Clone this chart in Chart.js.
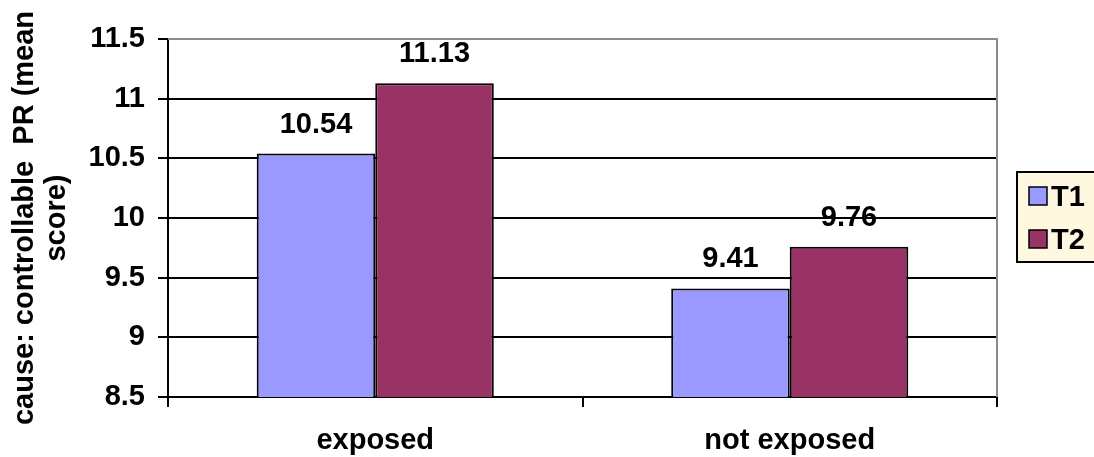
<!DOCTYPE html>
<html>
<head>
<meta charset="utf-8">
<script src="https://cdn.jsdelivr.net/npm/chart.js@4"></script>
<style>
  html, body { margin: 0; padding: 0; background: #ffffff; }
  #wrap { width: 1094px; height: 457px; }
</style>
</head>
<body>
<div id="wrap"><canvas id="chart" width="1094" height="457"></canvas></div>
<script>
// Mean scores per exposure group, measured at two time points
const categories = ['exposed', 'not exposed'];
const seriesNames = ['T1', 'T2'];
const t1Values = [10.54, 9.41];
const t2Values = [11.13, 9.76];
const yTickValues = [8.5, 9, 9.5, 10, 10.5, 11, 11.5];
const yTitle = ['cause: controllable  PR (mean', 'score)'];

const FONT = "'Liberation Sans', Arial, sans-serif";
const FONT_SIZE = 29;

// Value labels above each bar
const barValueLabels = {
  id: 'barValueLabels',
  afterDatasetsDraw(chart) {
    const ctx = chart.ctx;
    ctx.save();
    ctx.font = 'bold ' + FONT_SIZE + 'px ' + FONT;
    ctx.fillStyle = '#000000';
    ctx.textAlign = 'center';
    ctx.textBaseline = 'alphabetic';
    chart.data.datasets.forEach((ds, di) => {
      const meta = chart.getDatasetMeta(di);
      meta.data.forEach((bar, i) => {
        ctx.fillText(ds.data[i].toFixed(2), bar.x, bar.y - 21);
      });
    });
    ctx.restore();
  }
};

// Grey frame on the top/right of the plot area
const plotFrame = {
  id: 'plotFrame',
  beforeDatasetsDraw(chart) {
    const { ctx, chartArea: a } = chart;
    ctx.save();
    ctx.strokeStyle = '#8c8c8c';
    ctx.lineWidth = 2;
    ctx.beginPath();
    ctx.moveTo(a.left, a.top);
    ctx.lineTo(a.right, a.top);
    ctx.lineTo(a.right, a.bottom);
    ctx.stroke();
    ctx.restore();
  }
};

// Boxed legend on the right
const boxLegend = {
  id: 'boxLegend',
  afterDraw(chart) {
    const ctx = chart.ctx;
    const x0 = 1017, y0 = 172, w = 90, h = 90;
    ctx.save();
    ctx.fillStyle = '#fff8e1';
    ctx.fillRect(x0, y0, w, h);
    ctx.strokeStyle = '#000000';
    ctx.lineWidth = 2;
    ctx.strokeRect(x0, y0, w, h);
    ctx.font = 'bold ' + FONT_SIZE + 'px ' + FONT;
    ctx.textAlign = 'left';
    ctx.textBaseline = 'alphabetic';
    chart.data.datasets.forEach((ds, i) => {
      const sy = 187 + i * 43;
      ctx.fillStyle = ds.backgroundColor;
      ctx.fillRect(1029, sy, 18, 18);
      ctx.lineWidth = 1.5;
      ctx.strokeStyle = '#000000';
      ctx.strokeRect(1029, sy, 18, 18);
      ctx.fillStyle = '#000000';
      ctx.fillText(ds.label, 1051, sy + 19);
    });
    ctx.restore();
  }
};

new Chart(document.getElementById('chart'), {
  type: 'bar',
  data: {
    labels: categories,
    datasets: [
      {
        label: seriesNames[0],
        data: t1Values,
        backgroundColor: '#9999ff',
        borderColor: '#000000',
        borderWidth: 2,
        borderSkipped: false
      },
      {
        label: seriesNames[1],
        data: t2Values,
        backgroundColor: '#993366',
        borderColor: '#000000',
        borderWidth: 2,
        borderSkipped: false
      }
    ]
  },
  options: {
    responsive: false,
    animation: false,
    datasets: {
      bar: { categoryPercentage: 0.572, barPercentage: 1.0 }
    },
    layout: { padding: { left: 0, top: 39, right: 97, bottom: 0 } },
    plugins: {
      legend: { display: false },
      tooltip: { enabled: false }
    },
    scales: {
      x: {
        offset: true,
        grid: {
          display: true,
          offset: true,
          drawOnChartArea: false,
          drawTicks: true,
          tickLength: 10,
          color: '#000000',
          lineWidth: 2
        },
        border: { display: true, color: '#000000', width: 2 },
        ticks: {
          color: '#000000',
          padding: 17,
          font: { family: FONT, size: FONT_SIZE, weight: 'bold' }
        },
        afterFit(scale) { scale.height = 60; }
      },
      y: {
        min: 8.5,
        max: 11.5,
        afterBuildTicks(scale) {
          scale.ticks = yTickValues.map(v => ({ value: v }));
        },
        grid: {
          drawTicks: true,
          tickLength: 10,
          lineWidth: 2,
          tickColor: '#000000',
          color: (c) => (c.tick && c.tick.value === 11.5) ? '#8c8c8c' : '#000000'
        },
        border: { display: true, color: '#000000', width: 2 },
        ticks: {
          color: '#000000',
          padding: 13,
          font: { family: FONT, size: FONT_SIZE, weight: 'bold' },
          callback: (v) => String(v)
        },
        title: {
          display: true,
          text: yTitle,
          color: '#000000',
          padding: { top: 9, bottom: 0 },
          font: { family: FONT, size: FONT_SIZE, weight: 'bold', lineHeight: 1.1 }
        },
        afterFit(scale) { scale.width = 168; }
      }
    }
  },
  plugins: [plotFrame, barValueLabels, boxLegend]
});
</script>
</body>
</html>
